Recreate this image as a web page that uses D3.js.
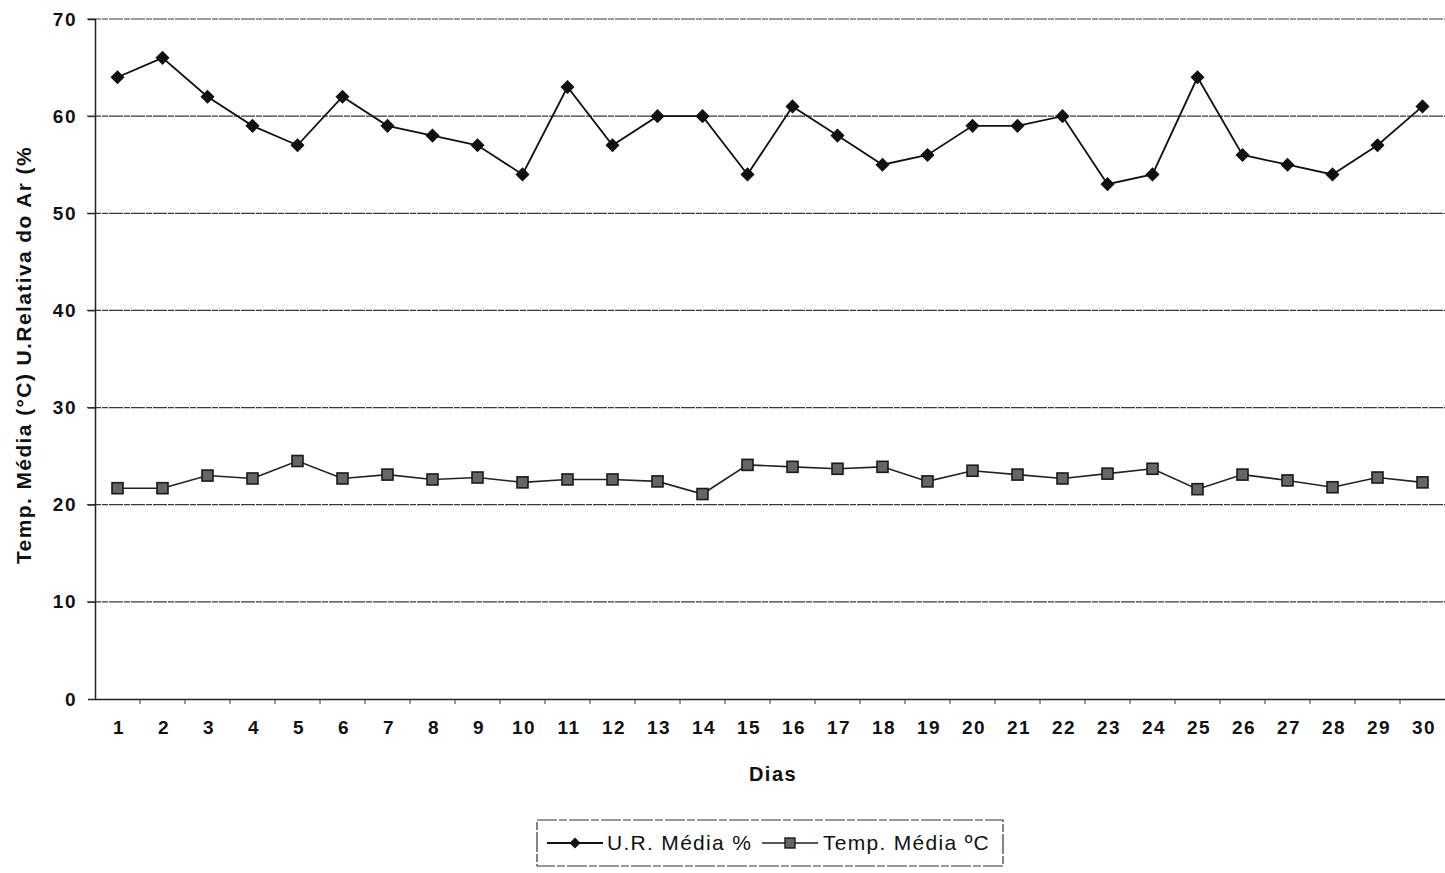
<!DOCTYPE html>
<html>
<head>
<meta charset="utf-8">
<script src="https://cdn.jsdelivr.net/npm/d3@7"></script>
<style>
  html, body { margin: 0; padding: 0; background: #fff; }
  svg { display: block; font-family: "Liberation Sans", Arial, sans-serif; }
</style>
</head>
<body>
<svg id="chart" width="1445" height="873"></svg>
<script>
// Daily means for the month
const dias = d3.range(1, 31);
const urMedia = [64, 66, 62, 59, 57, 62, 59, 58, 57, 54,
                 63, 57, 60, 60, 54, 61, 58, 55, 56, 59,
                 59, 60, 53, 54, 64, 56, 55, 54, 57, 61];
const tempMedia = [21.7, 21.7, 23.0, 22.7, 24.5, 22.7, 23.1, 22.6, 22.8, 22.3,
                   22.6, 22.6, 22.4, 21.1, 24.1, 23.9, 23.7, 23.9, 22.4, 23.5,
                   23.1, 22.7, 23.2, 23.7, 21.6, 23.1, 22.5, 21.8, 22.8, 22.3];
const yTicks = [0, 10, 20, 30, 40, 50, 60, 70];
const legendLabels = ["U.R. Média %", "Temp. Média ºC"];

const svg = d3.select("#chart");
const margin = { left: 95, right: 0, top: 19, bottom: 173 };
const W = 1445, H = 873;

const x = d3.scaleBand().domain(dias).range([margin.left, W - margin.right]);
const y = d3.scaleLinear().domain([0, 70]).range([H - margin.bottom - 1, margin.top]);

// Horizontal gridlines
svg.append("g")
  .selectAll("line")
  .data(yTicks.filter(d => d > 0))
  .join("line")
  .attr("x1", margin.left - 8).attr("x2", W)
  .attr("y1", d => y(d)).attr("y2", d => y(d))
  .attr("stroke", "#3a3a3a").attr("stroke-width", 1.2)
  .attr("stroke-dasharray", "14 1 6 1");

// Y axis
const yAxis = svg.append("g")
  .attr("transform", `translate(${margin.left},0)`)
  .call(d3.axisLeft(y).tickValues(yTicks).tickSize(7).tickPadding(11));
yAxis.select(".domain").attr("stroke", "#222").attr("stroke-width", 1.5);
yAxis.selectAll(".tick line").attr("stroke", "#222");
yAxis.selectAll("text")
  .attr("font-size", 19).attr("font-weight", "bold").attr("fill", "#111")
  .attr("letter-spacing", 1.5)
  .attr("font-family", "Liberation Sans, Arial, sans-serif");

// X axis
const xAxis = svg.append("g")
  .attr("transform", `translate(0,${y(0)})`)
  .call(d3.axisBottom(x).tickSize(0).tickPadding(22));
xAxis.select(".domain").attr("stroke", "#222").attr("stroke-width", 1.5);
xAxis.selectAll("text")
  .attr("font-size", 19).attr("font-weight", "bold").attr("fill", "#111")
  .attr("letter-spacing", 1.5)
  .attr("dx", 1.5)
  .attr("font-family", "Liberation Sans, Arial, sans-serif");
// Small tick marks at the category boundaries
svg.append("g")
  .selectAll("line")
  .data(dias.slice(1))
  .join("line")
  .attr("x1", d => x(d)).attr("x2", d => x(d))
  .attr("y1", y(0)).attr("y2", y(0) + 5)
  .attr("stroke", "#333");

// Axis titles
svg.append("text")
  .attr("x", 773).attr("y", 781)
  .attr("text-anchor", "middle")
  .attr("font-size", 20).attr("font-weight", "bold").attr("fill", "#111")
  .attr("letter-spacing", 1.5)
  .text("Dias");
svg.append("text")
  .attr("transform", `translate(31,355) rotate(-90)`)
  .attr("text-anchor", "middle")
  .attr("font-size", 21).attr("font-weight", "bold").attr("fill", "#111")
  .attr("letter-spacing", 1.4)
  .text("Temp. Média (°C) U.Relativa do Ar (%");

const cx = d => x(d) + x.bandwidth() / 2;

// Lines
const line = d3.line().x((d, i) => cx(dias[i])).y(d => y(d));
svg.append("path").datum(urMedia)
  .attr("d", line).attr("fill", "none")
  .attr("stroke", "#111").attr("stroke-width", 1.8);
svg.append("path").datum(tempMedia)
  .attr("d", line).attr("fill", "none")
  .attr("stroke", "#222").attr("stroke-width", 1.6);

// Markers: diamonds for humidity, squares for temperature
svg.append("g")
  .selectAll("path")
  .data(urMedia)
  .join("path")
  .attr("transform", (d, i) => `translate(${cx(dias[i])},${y(d)}) rotate(45)`)
  .attr("d", d3.symbol().type(d3.symbolSquare).size(72))
  .attr("fill", "#111").attr("stroke", "#111").attr("stroke-width", 1.5);

svg.append("g")
  .selectAll("rect")
  .data(tempMedia)
  .join("rect")
  .attr("x", (d, i) => cx(dias[i]) - 5.5)
  .attr("y", d => y(d) - 5.5)
  .attr("width", 11).attr("height", 11)
  .attr("fill", "#666").attr("stroke", "#1a1a1a").attr("stroke-width", 1.6);

// Legend
const lg = svg.append("g");
lg.append("rect")
  .attr("x", 537).attr("y", 820).attr("width", 466).attr("height", 46)
  .attr("fill", "#fff").attr("stroke", "#333").attr("stroke-width", 1.2)
  .attr("stroke-dasharray", "20 2 8 2");
const ly = 843;
lg.append("line").attr("x1", 547).attr("x2", 603).attr("y1", ly).attr("y2", ly)
  .attr("stroke", "#111").attr("stroke-width", 1.8);
lg.append("path")
  .attr("transform", `translate(575,${ly}) rotate(45)`)
  .attr("d", d3.symbol().type(d3.symbolSquare).size(60))
  .attr("fill", "#111");
lg.append("text").attr("x", 607).attr("y", ly + 7)
  .attr("font-size", 21).attr("fill", "#111").attr("letter-spacing", 1.3)
  .text(legendLabels[0]);
lg.append("line").attr("x1", 762).attr("x2", 818).attr("y1", ly).attr("y2", ly)
  .attr("stroke", "#222").attr("stroke-width", 1.6);
lg.append("rect").attr("x", 785).attr("y", ly - 5).attr("width", 10).attr("height", 10)
  .attr("fill", "#666").attr("stroke", "#1a1a1a").attr("stroke-width", 1.4);
lg.append("text").attr("x", 823).attr("y", ly + 7)
  .attr("font-size", 21).attr("fill", "#111").attr("letter-spacing", 1.3)
  .text(legendLabels[1]);
</script>
</body>
</html>
